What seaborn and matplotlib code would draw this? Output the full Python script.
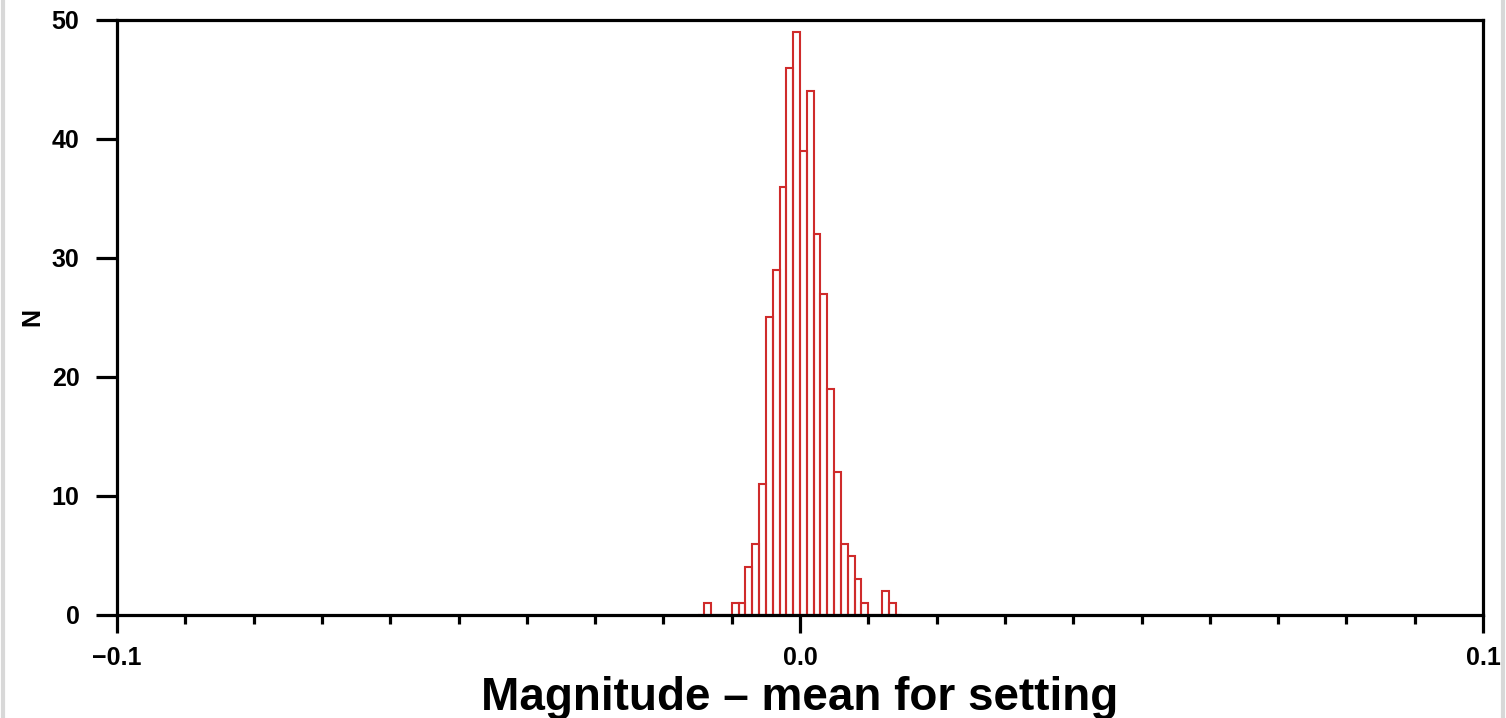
import numpy as np
import pandas as pd
import matplotlib
matplotlib.use("Agg")
import matplotlib.pyplot as plt
import seaborn as sns
from matplotlib.ticker import FixedLocator, MultipleLocator
from matplotlib.lines import Line2D

# ---- data: histogram bins (left edge of each 0.001-wide bin) and counts ----
bin_left = [-0.014, -0.010, -0.009, -0.008, -0.007, -0.006, -0.005, -0.004,
            -0.003, -0.002, -0.001, 0.000, 0.001, 0.002, 0.003, 0.004,
            0.005, 0.006, 0.007, 0.008, 0.009, 0.012, 0.013]
counts = [1, 1, 1, 4, 6, 11, 25, 29,
          36, 46, 49, 39, 44, 32, 27, 19,
          12, 6, 5, 3, 1, 2, 1]
bin_width = 0.001
x_ticks = [-0.1, 0.0, 0.1]
x_ticklabels = ["\u22120.1", "0.0", "0.1"]
y_ticks = [0, 10, 20, 30, 40, 50]
x_label = "Magnitude \u2013 mean for setting"
y_label = "N"

df = pd.DataFrame({"center": np.array(bin_left) + bin_width / 2,
                   "count": np.array(counts, dtype=float)})

sns.set_style("white")
plt.rcParams["font.family"] = ["Liberation Sans", "DejaVu Sans"]
plt.rcParams["font.weight"] = "bold"
plt.rcParams["text.color"] = "black"
plt.rcParams["axes.labelcolor"] = "black"
plt.rcParams["xtick.color"] = "black"
plt.rcParams["ytick.color"] = "black"

fig = plt.figure(figsize=(15.06, 7.18), dpi=100)
ax = fig.add_axes([117 / 1506, 1 - 615 / 718, (1483 - 117) / 1506, (615 - 20) / 718])

sns.histplot(data=df, x="center", weights="count", binwidth=bin_width,
             binrange=(-0.015, 0.015), fill=False,
             color="#cf2b2b", linewidth=1.5, ax=ax)

ax.set_xlim(-0.1, 0.1)
ax.set_ylim(0, 50)
ax.xaxis.set_major_locator(FixedLocator(x_ticks))
ax.set_xticklabels(x_ticklabels)
ax.xaxis.set_minor_locator(MultipleLocator(0.01))
ax.yaxis.set_major_locator(FixedLocator(y_ticks))

for s in ax.spines.values():
    s.set_linewidth(2.3)
    s.set_color("black")

ax.tick_params(axis="x", which="major", direction="out", length=13, width=2.3,
               labelsize=18, pad=9, bottom=True, colors="black")
ax.tick_params(axis="x", which="minor", direction="out", length=6.5, width=2.3,
               bottom=True, colors="black")
ax.tick_params(axis="y", which="major", direction="out", length=15, width=2.3,
               labelsize=18, pad=12, left=True, colors="black")
for lab in ax.get_xticklabels() + ax.get_yticklabels():
    lab.set_fontweight("bold")

ax.set_xlabel(x_label, fontsize=33, fontweight="bold", labelpad=5, color="black")
ax.set_ylabel(y_label, fontsize=18, fontweight="bold", labelpad=5, color="black")

# light grey page border lines
fig.add_artist(Line2D([0.002, 0.002], [0, 1], transform=fig.transFigure,
                      color="#d8d8d8", lw=3))
fig.add_artist(Line2D([0.998, 0.998], [0, 1], transform=fig.transFigure,
                      color="#d8d8d8", lw=3))

fig.savefig("out.png", dpi=100)
